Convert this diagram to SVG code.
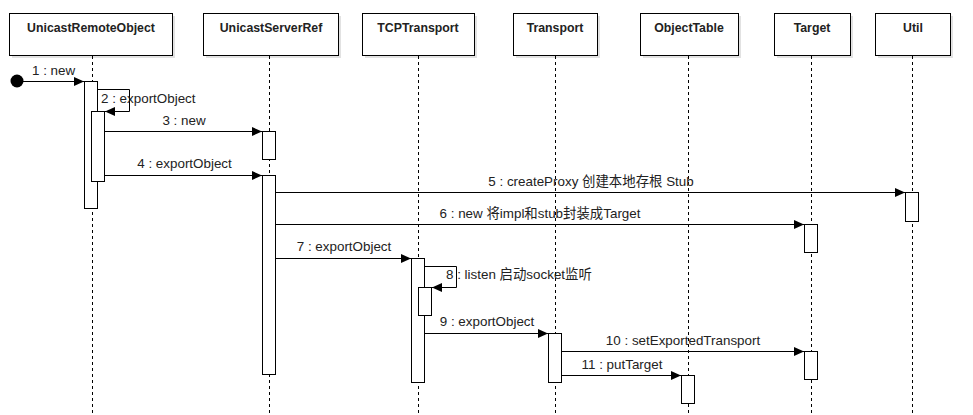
<svg xmlns="http://www.w3.org/2000/svg" width="973" height="415" viewBox="0 0 973 415">
<defs>
<style>
.hd{fill:#fff;stroke:#000;stroke-width:1}
.sh{fill:#e2e2e2}
.ht{font-family:"Liberation Sans",Arial,sans-serif;font-size:12.3px;font-weight:bold;fill:#222;text-anchor:middle}
.ll{stroke:#000;stroke-width:1;stroke-dasharray:3,3}
.act{fill:#fff;stroke:#000;stroke-width:1}
.msg{fill:none;stroke:#000;stroke-width:1}
.lb{font-family:"Liberation Sans",Arial,"Noto Sans CJK SC",sans-serif;font-size:13.4px;fill:#222}
</style>
<marker id="ah" markerUnits="userSpaceOnUse" markerWidth="10" markerHeight="9" refX="10" refY="4.5" orient="auto">
<path d="M0,0 L10,4.5 L0,9 z" fill="#000"/>
</marker>
</defs>
<rect width="973" height="415" fill="#fff"/>

<g id="UnicastRemoteObject">
<rect class="sh" x="12" y="16" width="163" height="42"/>
<rect class="hd" x="9.5" y="13.5" width="163" height="42"/>
<text class="ht" x="91" y="32">UnicastRemoteObject</text>
<line class="ll" x1="92.5" y1="56" x2="92.5" y2="415"/>
<rect class="act" x="84.5" y="81.5" width="13" height="127"/>
<rect class="act" x="91.5" y="111.5" width="13" height="70"/>
</g>
<g id="UnicastServerRef">
<rect class="sh" x="206" y="16" width="135" height="42"/>
<rect class="hd" x="203.5" y="13.5" width="135" height="42"/>
<text class="ht" x="271" y="32">UnicastServerRef</text>
<line class="ll" x1="269.5" y1="56" x2="269.5" y2="415"/>
<rect class="act" x="262.5" y="131.5" width="13" height="28"/>
<rect class="act" x="262.5" y="175.5" width="13" height="199"/>
</g>
<g id="TCPTransport">
<rect class="sh" x="365" y="16" width="112" height="42"/>
<rect class="hd" x="362.5" y="13.5" width="112" height="42"/>
<text class="ht" x="418" y="32">TCPTransport</text>
<line class="ll" x1="418.5" y1="56" x2="418.5" y2="415"/>
<rect class="act" x="411.5" y="258.5" width="13" height="124"/>
<rect class="act" x="418.5" y="287.5" width="13" height="28"/>
</g>
<g id="Transport">
<rect class="sh" x="516" y="16" width="84" height="42"/>
<rect class="hd" x="513.5" y="13.5" width="84" height="42"/>
<text class="ht" x="555" y="32">Transport</text>
<line class="ll" x1="555.5" y1="56" x2="555.5" y2="415"/>
<rect class="act" x="548.5" y="333.5" width="13" height="49"/>
</g>
<g id="ObjectTable">
<rect class="sh" x="643" y="16" width="98" height="42"/>
<rect class="hd" x="640.5" y="13.5" width="98" height="42"/>
<text class="ht" x="689" y="32">ObjectTable</text>
<line class="ll" x1="688.5" y1="56" x2="688.5" y2="415"/>
<rect class="act" x="681.5" y="375.5" width="13" height="28"/>
</g>
<g id="Target">
<rect class="sh" x="777" y="16" width="76" height="42"/>
<rect class="hd" x="774.5" y="13.5" width="76" height="42"/>
<text class="ht" x="812" y="32">Target</text>
<line class="ll" x1="811.5" y1="56" x2="811.5" y2="415"/>
<rect class="act" x="804.5" y="224.5" width="13" height="28"/>
<rect class="act" x="804.5" y="351.5" width="13" height="28"/>
</g>
<g id="Util">
<rect class="sh" x="878" y="16" width="75" height="42"/>
<rect class="hd" x="875.5" y="13.5" width="75" height="42"/>
<text class="ht" x="913" y="32">Util</text>
<line class="ll" x1="912.5" y1="56" x2="912.5" y2="415"/>
<rect class="act" x="905.5" y="192.5" width="13" height="29"/>
</g>

<g id="connectors">
<circle cx="17" cy="81" r="6.5" fill="#000"/>
<line class="msg" x1="17" y1="81.5" x2="84" y2="81.5" marker-end="url(#ah)"/>
<polyline class="msg" points="98,89.5 129.5,89.5 129.5,111.5 105,111.5" marker-end="url(#ah)"/>
<line class="msg" x1="105" y1="131.5" x2="262" y2="131.5" marker-end="url(#ah)"/>
<line class="msg" x1="105" y1="175.5" x2="262" y2="175.5" marker-end="url(#ah)"/>
<line class="msg" x1="276" y1="192.5" x2="905" y2="192.5" marker-end="url(#ah)"/>
<line class="msg" x1="276" y1="224.5" x2="804" y2="224.5" marker-end="url(#ah)"/>
<line class="msg" x1="276" y1="258.5" x2="411" y2="258.5" marker-end="url(#ah)"/>
<polyline class="msg" points="425,266.5 456.5,266.5 456.5,287.5 432,287.5" marker-end="url(#ah)"/>
<line class="msg" x1="425" y1="333.5" x2="548" y2="333.5" marker-end="url(#ah)"/>
<line class="msg" x1="562" y1="351.5" x2="804" y2="351.5" marker-end="url(#ah)"/>
<line class="msg" x1="562" y1="375.5" x2="681" y2="375.5" marker-end="url(#ah)"/>

<text class="lb" x="32" y="75">1 : new</text>
<text class="lb" x="101" y="103">2 : exportObject</text>
<text class="lb" x="184" y="125" text-anchor="middle">3 : new</text>
<text class="lb" x="184.5" y="168" text-anchor="middle">4 : exportObject</text>
<text class="lb" x="591" y="186" text-anchor="middle">5 : createProxy 创建本地存根 Stub</text>
<text class="lb" x="540" y="218" text-anchor="middle">6 : new 将impl和stub封装成Target</text>
<text class="lb" x="344" y="251" text-anchor="middle">7 : exportObject</text>
<text class="lb" x="446" y="279">8 : listen 启动socket监听</text>
<text class="lb" x="487" y="326" text-anchor="middle">9 : exportObject</text>
<text class="lb" x="683" y="345" text-anchor="middle">10 : setExportedTransport</text>
<text class="lb" x="622" y="369" text-anchor="middle">11 : putTarget</text>
</g>
</svg>
